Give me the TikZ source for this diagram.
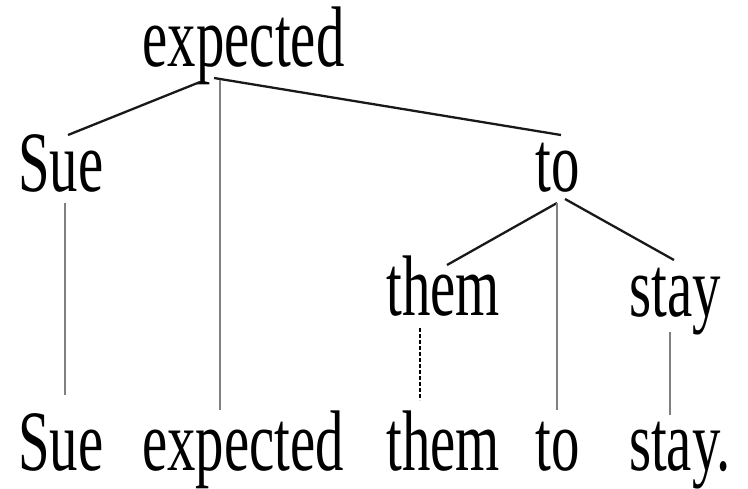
\documentclass[tikz,border=0pt]{standalone}
\usepackage{fontspec}
\setmainfont{Liberation Serif}
\begin{document}
\begin{tikzpicture}[x=1pt,y=-1pt,
  word/.style={inner sep=0pt,anchor=base,font=\fontsize{86}{90}\selectfont},
  edgeline/.style={line width=2.3pt,black!90},
  projline/.style={line width=1.6pt,black!50},
  traceline/.style={line width=1.6pt,black,dash pattern=on 4pt off 2pt}]
\useasboundingbox (0,0) rectangle (748,489);
% tree nodes
\node[word] (exp) at (243.5,67) {\scalebox{0.66}[1]{expected}};
\node[word] (sue) at (61,192) {\scalebox{0.66}[1]{Sue}};
\node[word] (to) at (558,192) {\scalebox{0.66}[1]{to}};
\node[word] (them) at (443,316) {\scalebox{0.66}[1]{them}};
\node[word] (stay) at (675,317) {\scalebox{0.66}[1]{stay}};
% sentence
\node[word] (wsue) at (61,470) {\scalebox{0.66}[1]{Sue}};
\node[word] (wexp) at (243,470) {\scalebox{0.66}[1]{expected}};
\node[word] (wthem) at (443,470) {\scalebox{0.66}[1]{them}};
\node[word] (wto) at (558,470) {\scalebox{0.66}[1]{to}};
\node[word] (wstay) at (680,470) {\scalebox{0.66}[1]{stay.}};
% attachment points
\coordinate (expL) at (200,82);
\coordinate (expR) at (214,78);
\coordinate (expV) at (220,80);
\coordinate (sueT) at (68,135);
\coordinate (sueB) at (65,203);
\coordinate (toT) at (561,135);
\coordinate (toL) at (557,203);
\coordinate (toR) at (565,199);
\coordinate (themT) at (447,265);
\coordinate (themB) at (420,328);
\coordinate (stayT) at (674,260);
\coordinate (stayB) at (670,332);
\coordinate (wsueT) at (65,395);
\coordinate (wexpT) at (220,410);
\coordinate (wthemT) at (420,400);
\coordinate (wtoT) at (557,410);
\coordinate (wstayT) at (670,415);
% dependency edges
\draw[edgeline] (expL) -- (sueT);
\draw[edgeline] (expR) -- (toT);
\draw[edgeline] (toL) -- (themT);
\draw[edgeline] (toR) -- (stayT);
% projection lines
\draw[projline] (sueB) -- (wsueT);
\draw[projline] (expV) -- (wexpT);
\draw[projline] (toL) -- (wtoT);
\draw[projline] (stayB) -- (wstayT);
\draw[traceline] (themB) -- (wthemT);
\end{tikzpicture}
\end{document}
